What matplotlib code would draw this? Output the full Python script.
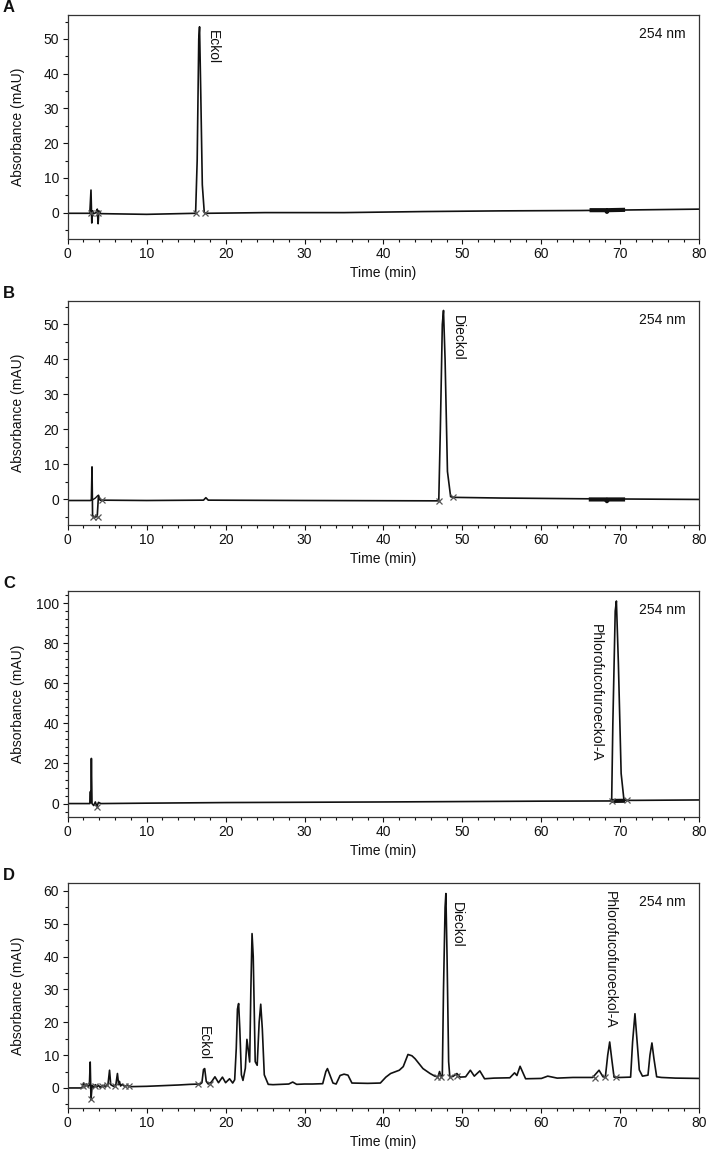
import matplotlib.pyplot as plt
from matplotlib.ticker import MultipleLocator

plt.rcParams['font.family'] = ['Liberation Sans', 'DejaVu Sans']

# --- данные хроматограмм (время, мин; поглощение, mAU) ---
trace_a = [(0, -0.2), (2.8, -0.2), (2.95, 6.5), (3.05, -3.0), (3.15, 0.5), (3.3, -0.3),
           (3.6, 0.0), (3.75, 1.0), (3.85, -3.2), (3.95, 0.5), (4.2, -0.3), (10, -0.5),
           (16.2, -0.2), (16.4, 15), (16.6, 50), (16.7, 53.5), (16.85, 35), (17.05, 8),
           (17.3, 0.0), (17.5, -0.2), (25, 0.0), (35, 0.0), (45, 0.3), (55, 0.5),
           (65, 0.6), (80, 1.0)]
thick_a = [(66.1, 0.7), (68.2, 0.7), (68.3, 0.2), (68.4, 0.7), (70.6, 0.8)]
marks_a = [(2.9, -0.2), (3.8, -0.2), (16.2, -0.1), (17.4, -0.1)]

trace_b = [(0, -0.3), (2.9, -0.3), (3.0, 0.0), (3.08, 9.3), (3.15, -4.5), (3.3, -5.0),
           (3.6, -5.0), (3.75, -4.5), (3.9, 1.2), (4.1, -0.2), (10, -0.3), (17.2, -0.2),
           (17.5, 0.5), (17.8, -0.2), (30, -0.3), (47.0, -0.4), (47.2, 20), (47.45, 50),
           (47.6, 54.0), (47.8, 40), (48.1, 8), (48.5, 0.8), (48.8, 0.6), (55, 0.4),
           (65, 0.2), (80, 0.0)]
loop_b = [(3.1, -0.2), (3.5, 0.4), (3.85, 1.2)]
thick_b = [(66.0, 0.0), (68.2, 0.0), (68.3, -0.5), (68.4, 0.0), (70.6, 0.0)]
marks_b = [(3.25, -4.9), (3.85, -4.9), (4.4, -0.1), (47.0, -0.5), (48.8, 0.6)]

trace_c = [(0, 0.0), (2.8, 0.0), (2.88, 6.0), (2.93, 0.5), (3.0, 22.5), (3.08, 0.0),
           (3.3, -1.0), (3.5, 0.8), (3.7, -1.5), (3.9, 0.6), (4.2, 0.0), (10, 0.2),
           (20, 0.5), (40, 0.8), (60, 1.2), (68.9, 1.3), (69.05, 40), (69.35, 96),
           (69.5, 101.0), (69.75, 70), (70.1, 15), (70.45, 2.0), (70.7, 1.6), (72, 1.6),
           (80, 1.8)]
thick_c = [(68.9, 1.3), (70.6, 1.4)]
marks_c = [(3.7, -1.6), (69.0, 1.2), (70.8, 1.9)]

trace_d = [(0, 0), (1.8, 0), (2.0, 1.5), (2.2, 0.5), (2.4, 1.2), (2.6, 0.3), (2.75, 1.0),
           (2.85, 7.9), (2.95, -3.5), (3.1, 0.8), (3.3, 0.2), (3.5, 1.0), (3.7, 0.3),
           (3.9, 0.8), (4.1, 0.2), (4.4, 0.8), (4.8, 0.5), (5.1, 1.0), (5.3, 5.4), (5.45, 1.0),
           (5.6, 0.8), (5.8, 0.5), (6.1, 1.0), (6.3, 4.4), (6.45, 1.0), (6.55, 2.0),
           (6.7, 0.6), (6.9, 1.1), (7.2, 0.5), (7.5, 0.8), (8.0, 0.4), (10, 0.5), (12, 0.7),
           (14, 0.9), (15.5, 1.1), (16.8, 1.2), (17.0, 1.6), (17.2, 5.6), (17.35, 5.9),
           (17.55, 2.0), (17.8, 1.2), (18.2, 1.8), (18.65, 3.4), (19.1, 1.6), (19.6, 3.3),
           (20.0, 1.6), (20.5, 2.8), (20.9, 1.5), (21.15, 2.5), (21.35, 12), (21.5, 24),
           (21.65, 25.7), (21.8, 18), (22.0, 4.0), (22.2, 2.3), (22.5, 6.0), (22.7, 14.8),
           (22.85, 12), (23.05, 7.9), (23.2, 30), (23.35, 47.0), (23.5, 40), (23.75, 8.0),
           (24.0, 6.9), (24.25, 20), (24.45, 25.5), (24.65, 18), (24.9, 4.0), (25.4, 1.1),
           (26, 1.0), (27, 1.1), (28.0, 1.2), (28.5, 1.8), (29.0, 1.1), (30, 1.2),
           (31, 1.2), (32.3, 1.3), (32.7, 5.0), (32.9, 5.9), (33.2, 4.0), (33.6, 1.5),
           (34.0, 1.2), (34.5, 3.8), (35.0, 4.2), (35.5, 3.9), (36.0, 1.5), (38, 1.4),
           (39.6, 1.5), (40.3, 3.3), (40.9, 4.4), (42.0, 5.4), (42.5, 6.5), (43.1, 10.2),
           (43.6, 9.8), (44.0, 8.9), (45.0, 5.9), (45.9, 4.4), (46.5, 3.6), (46.9, 3.4),
           (47.1, 5.0), (47.3, 3.3), (47.45, 3.8), (47.6, 30), (47.8, 55), (47.9, 59.2),
           (48.05, 40), (48.25, 8.0), (48.4, 3.4), (48.8, 3.5), (49.3, 4.4), (49.7, 3.3),
           (50.4, 3.4), (51.0, 5.4), (51.5, 3.6), (52.2, 5.2), (52.8, 2.8), (54, 3.0),
           (56.0, 3.1), (56.6, 4.6), (56.9, 3.8), (57.3, 6.6), (58.0, 2.8), (60.0, 2.9),
           (60.8, 3.6), (62.0, 3.0), (64, 3.2), (66.5, 3.2), (67.3, 5.4), (67.8, 3.4),
           (68.1, 3.3), (68.4, 10), (68.65, 14.0), (68.9, 9.0), (69.2, 3.3), (70, 3.2),
           (71.3, 3.3), (71.55, 14), (71.85, 22.6), (72.1, 15), (72.4, 5.5), (72.8, 3.6),
           (73.5, 3.9), (73.75, 10), (74.0, 13.7), (74.25, 9.0), (74.6, 3.4), (75.2, 3.2),
           (77, 3.0), (80, 2.9)]
marks_d = [(1.9, 0.5), (2.3, 0.8), (2.9, -3.3), (3.4, 0.6), (4.3, 0.5), (5.0, 0.8),
           (6.0, 0.7), (7.2, 0.5), (7.8, 0.5), (16.5, 1.1), (18.0, 1.2), (46.8, 3.4),
           (47.3, 3.3), (48.4, 3.4), (49.3, 3.5), (66.8, 3.0), (68.1, 3.3), (69.5, 3.2)]

# подписи пиков: (текст, время, верх подписи)
labels_a = [("Eckol", 18.4, 52.5)]
labels_b = [("Dieckol", 49.4, 52.6)]
labels_c = [("Phlorofucofuroeckol-A", 66.9, 89.3)]
labels_d = [("Eckol", 17.2, 18.8), ("Dieckol", 49.3, 56.6),
            ("Phlorofucofuroeckol-A", 68.7, 60.0)]

panels = [
    dict(letter="A", trace=trace_a, extra=[thick_a], marks=marks_a, labels=labels_a,
         ylim=(-7.6, 56.9), major=10, minor=5, box=(15, 239)),
    dict(letter="B", trace=trace_b, extra=[thick_b, loop_b], marks=marks_b, labels=labels_b,
         ylim=(-7.3, 56.7), major=10, minor=5, box=(301, 525)),
    dict(letter="C", trace=trace_c, extra=[thick_c], marks=marks_c, labels=labels_c,
         ylim=(-6.7, 106.0), major=20, minor=4, box=(591, 817)),
    dict(letter="D", trace=trace_d, extra=[], marks=marks_d, labels=labels_d,
         ylim=(-6.1, 62.4), major=10, minor=5, box=(883, 1108)),
]

W, H = 708, 1152
LEFT, RIGHT = 67.7, 699.3
INK = "#111111"

fig = plt.figure(figsize=(W / 100, H / 100), dpi=100)

for p in panels:
    top, bot = p["box"]
    ax = fig.add_axes([LEFT / W, 1 - bot / H, (RIGHT - LEFT) / W, (bot - top) / H])

    t, y = zip(*p["trace"])
    ax.plot(t, y, color=INK, linewidth=1.2)
    for seg in p["extra"]:
        st, sy = zip(*seg)
        lw = 3.0 if len(seg) != 3 else 1.0
        ax.plot(st, sy, color=INK, linewidth=lw, solid_capstyle="butt")
    mt, my = zip(*p["marks"])
    ax.plot(mt, my, linestyle="none", marker="x", markersize=4, color="#555555",
            markeredgewidth=0.9)

    for text, lx, ly in p["labels"]:
        ax.text(lx, ly, text, rotation=270, ha="center", va="top", fontsize=10, color=INK)
    ax.text(0.979, 0.915, "254 nm", transform=ax.transAxes, ha="right", va="center",
            fontsize=10, color=INK)

    ax.set_xlim(0, 80)
    ax.set_ylim(*p["ylim"])
    ax.xaxis.set_major_locator(MultipleLocator(10))
    ax.xaxis.set_minor_locator(MultipleLocator(2))
    ax.yaxis.set_major_locator(MultipleLocator(p["major"]))
    ax.yaxis.set_minor_locator(MultipleLocator(p["minor"]))
    ax.tick_params(which="major", direction="out", length=3.6, width=0.8,
                   labelsize=10, colors=INK, pad=2.5)
    ax.tick_params(which="minor", direction="out", length=2.4, width=0.8, colors=INK)
    for sp in ax.spines.values():
        sp.set_linewidth(0.9)
        sp.set_color("#333333")

    ax.set_xlabel("Time (min)", fontsize=10, color=INK, va="center")
    ax.xaxis.set_label_coords(0.5, -34 / (bot - top))
    ax.set_ylabel("Absorbance (mAU)", fontsize=10, color=INK, va="center")
    ax.yaxis.set_label_coords((18 - LEFT) / (RIGHT - LEFT), 0.5)

    fig.text(3 / W, 1 - (top - 8) / H, p["letter"], fontsize=12, fontweight="bold",
             ha="left", va="center", color=INK)

fig.savefig("out.png", dpi=100)
